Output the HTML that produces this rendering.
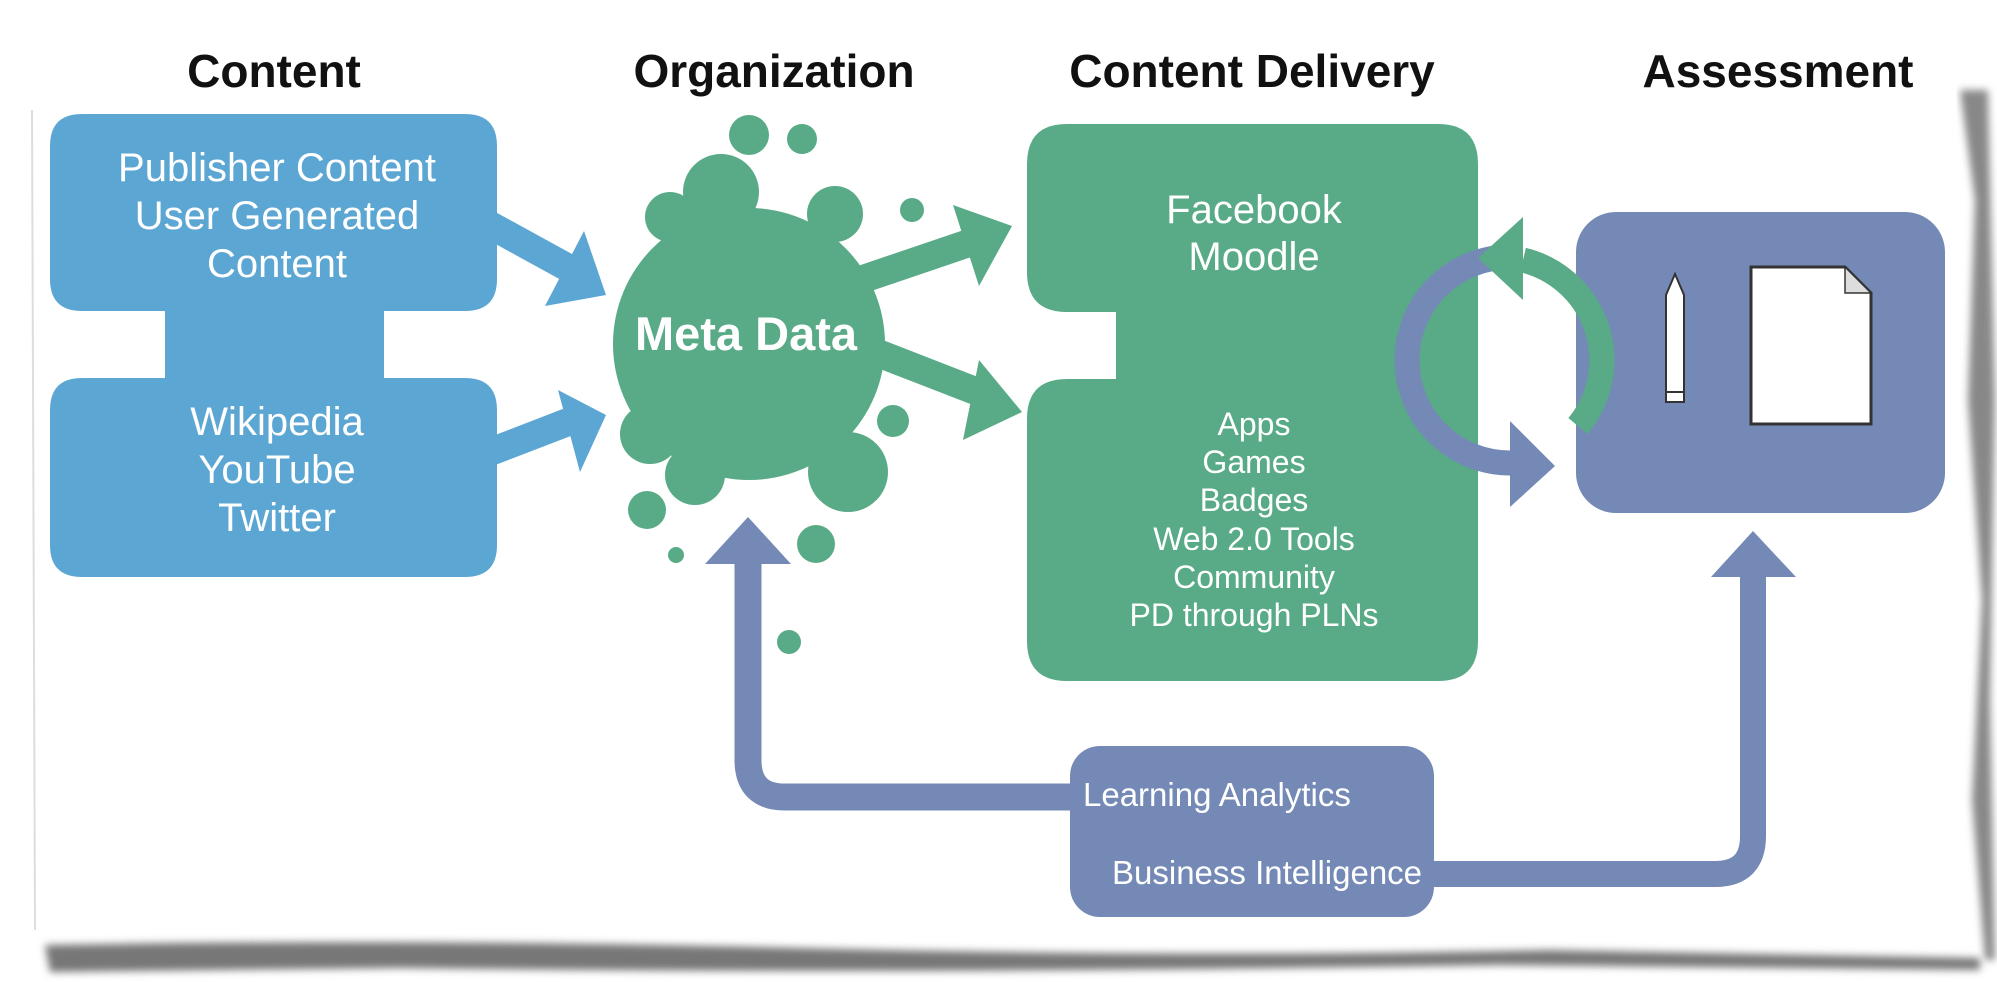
<!DOCTYPE html>
<html><head><meta charset="utf-8"><style>
html,body{margin:0;padding:0;background:#fff;}
svg{display:block;}
text{font-family:"Liberation Sans",sans-serif;}
</style></head><body>
<svg width="1997" height="982" viewBox="0 0 1997 982" xmlns="http://www.w3.org/2000/svg">
<defs>
<filter id="bl" x="-10%" y="-50%" width="120%" height="200%"><feGaussianBlur stdDeviation="4"/></filter>
</defs>
<rect width="1997" height="982" fill="#fff"/>
<!-- torn paper shadows -->
<path d="M45,945 Q400,938 800,948 T1550,950 L1980,958 L1980,970 L1500,965 Q900,975 400,968 L50,972 Z" fill="#777" filter="url(#bl)"/>
<path d="M1960,90 L1975,200 L1968,400 L1982,600 L1972,800 L1985,960 L1995,960 L1990,700 L1995,400 L1988,90 Z" fill="#888" filter="url(#bl)"/>
<line x1="32" y1="110" x2="35" y2="930" stroke="#ddd" stroke-width="2"/>

<!-- titles -->
<g font-weight="bold" font-size="46" fill="#111" text-anchor="middle">
<text x="274" y="87">Content</text>
<text x="774" y="87">Organization</text>
<text x="1252" y="87">Content Delivery</text>
<text x="1778" y="87">Assessment</text>
</g>

<!-- blue content shape -->
<path d="M82,114 H465 Q497,114 497,146 V279 Q497,311 465,311 H384 V378 H465 Q497,378 497,410 V545 Q497,577 465,577 H82 Q50,577 50,545 V410 Q50,378 82,378 H165 V311 H82 Q50,311 50,279 V146 Q50,114 82,114 Z" fill="#5ca6d3"/>
<g fill="#fff" font-size="40" text-anchor="middle">
<text x="277" y="181">Publisher Content</text>
<text x="277" y="229">User Generated</text>
<text x="277" y="277">Content</text>
<text x="277" y="435">Wikipedia</text>
<text x="277" y="483">YouTube</text>
<text x="277" y="531">Twitter</text>
</g>
<!-- blue arrows -->
<line x1="490" y1="225" x2="572" y2="270" stroke="#5ca6d3" stroke-width="28"/>
<polygon points="584,231 545,306 606,295" fill="#5ca6d3"/>
<line x1="490" y1="452" x2="568" y2="422" stroke="#5ca6d3" stroke-width="28"/>
<polygon points="558,390 580,472 606,415" fill="#5ca6d3"/>

<!-- green arrows from blob -->
<line x1="860" y1="280" x2="972" y2="242" stroke="#58ab86" stroke-width="28"/>
<polygon points="953,205 979,286 1012,226" fill="#58ab86"/>
<line x1="875" y1="352" x2="978" y2="392" stroke="#58ab86" stroke-width="28"/>
<polygon points="979,360 963,440 1022,412" fill="#58ab86"/>

<!-- blob -->
<g fill="#58ab86">
<circle cx="749" cy="344" r="136"/>
<circle cx="721" cy="192" r="38"/>
<circle cx="835" cy="214" r="28"/>
<circle cx="670" cy="217" r="25"/>
<circle cx="848" cy="472" r="40"/>
<circle cx="695" cy="475" r="30"/>
<circle cx="650" cy="434" r="30"/>
<circle cx="749" cy="135" r="20"/>
<circle cx="802" cy="139" r="15"/>
<circle cx="912" cy="210" r="12"/>
<circle cx="893" cy="421" r="16"/>
<circle cx="647" cy="510" r="19"/>
<circle cx="816" cy="544" r="19"/>
<circle cx="676" cy="555" r="8"/>
<circle cx="789" cy="642" r="12"/>
</g>
<text x="746" y="350" fill="#fff" font-size="47" font-weight="bold" text-anchor="middle">Meta Data</text>

<!-- green delivery shape -->
<path d="M1067,124 H1438 Q1478,124 1478,164 V641 Q1478,681 1438,681 H1067 Q1027,681 1027,641 V419 Q1027,379 1067,379 H1116 V312 H1067 Q1027,312 1027,272 V164 Q1027,124 1067,124 Z" fill="#58ab86"/>
<g fill="#fff" text-anchor="middle">
<text x="1254" y="223" font-size="40">Facebook</text>
<text x="1254" y="270" font-size="40">Moodle</text>
<g font-size="32">
<text x="1254" y="435">Apps</text>
<text x="1254" y="473">Games</text>
<text x="1254" y="511">Badges</text>
<text x="1254" y="550">Web 2.0 Tools</text>
<text x="1254" y="588">Community</text>
<text x="1254" y="626">PD through PLNs</text>
</g>
</g>

<!-- assessment box -->
<rect x="1576" y="212" width="369" height="301" rx="40" fill="#7589b6"/>
<polygon points="1666,295 1675,274 1684,295 1684,402 1666,402" fill="#fff" stroke="#333" stroke-width="2"/>
<line x1="1666" y1="392" x2="1684" y2="392" stroke="#333" stroke-width="2"/>
<polygon points="1751,267 1845,267 1871,293 1871,424 1751,424" fill="#fff" stroke="#333" stroke-width="3"/>
<polygon points="1845,267 1845,293 1871,293" fill="#ddd" stroke="#333" stroke-width="1.5"/>

<!-- cycle -->
<path d="M1510,257 A103,103 0 0 0 1510,463" fill="none" stroke="#7589b6" stroke-width="25"/>
<polygon points="1510,421 1510,507 1555,466" fill="#7589b6"/>
<path d="M1578,426 A103,103 0 0 0 1523,260" fill="none" stroke="#58ab86" stroke-width="25"/>
<polygon points="1523,217 1523,300 1478,258" fill="#58ab86"/>

<!-- purple feedback arrows -->
<path d="M748,560 V760 Q748,797 785,797 H1080" fill="none" stroke="#7589b6" stroke-width="27"/>
<polygon points="705,564 791,564 748,517" fill="#7589b6"/>
<path d="M1420,874 H1715 Q1753,874 1753,836 V570" fill="none" stroke="#7589b6" stroke-width="26"/>
<polygon points="1711,577 1796,577 1753,531" fill="#7589b6"/>
<rect x="1070" y="746" width="364" height="171" rx="30" fill="#7589b6"/>
<g fill="#fff" font-size="33">
<text x="1083" y="806">Learning Analytics</text>
<text x="1112" y="884">Business Intelligence</text>
</g>
</svg>
</body></html>
